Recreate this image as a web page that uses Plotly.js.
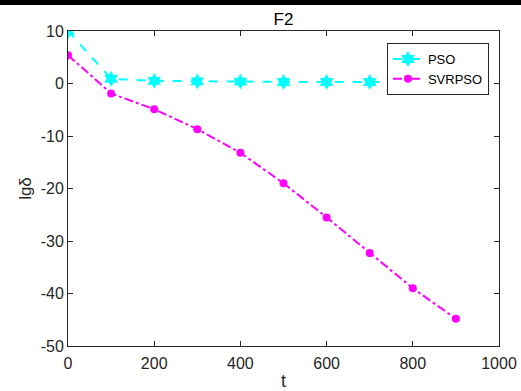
<!DOCTYPE html>
<html>
<head>
<meta charset="utf-8">
<script src="https://cdn.plot.ly/plotly-3.0.1.min.js"></script>
<style>
html,body{margin:0;padding:0;background:#fff;}
#wrap{position:relative;width:521px;height:391px;}
#bar{position:absolute;left:0;top:0;width:521px;height:5px;background:#000;z-index:10;}
#chart{width:521px;height:391px;}
</style>
</head>
<body>
<div id="wrap"><div id="bar"></div><div id="chart"></div></div>
<script>
const t = [0, 100, 200, 300, 400, 500, 600, 700, 800, 900];
const psoVals = [10, 0.9, 0.5, 0.4, 0.35, 0.3, 0.3, 0.3, 0.3, 0.3];
const svrpsoVals = [5.4, -1.9, -4.9, -8.7, -13.2, -19.0, -25.5, -32.3, -39.0, -44.8];
const xTicks = [0, 200, 400, 600, 800, 1000];
const xTickLabels = ['0', '200', '400', '600', '800', '1000'];
const yTicks = [10, 0, -10, -20, -30, -40, -50];
const yTickLabels = ['10', '0', '-10', '-20', '-30', '-40', '-50'];

const FONT = 'Liberation Sans, Arial, sans-serif';

const traces = [
  {x: t, y: psoVals, name: 'PSO', mode: 'lines+markers',
   line: {color: '#00FFFF', width: 2, dash: 'dash'},
   marker: {symbol: 'hexagram', size: 12, color: '#00FFFF'}},
  {x: t, y: svrpsoVals, name: 'SVRPSO', mode: 'lines+markers',
   line: {color: '#FF00FF', width: 2, dash: 'dashdot'},
   marker: {symbol: 'circle', size: 8, color: '#FF00FF'}}
];

const axisCommon = {
  showgrid: false, zeroline: false, showline: true, linecolor: '#262626', linewidth: 1,
  mirror: 'ticks', ticks: 'inside', ticklen: 5, tickcolor: '#262626',
  tickfont: {family: FONT, size: 16, color: '#262626'}
};

const layout = {
  width: 521, height: 391,
  margin: {l: 68, r: 22, t: 31, b: 45},
  paper_bgcolor: '#fff', plot_bgcolor: '#fff',
  title: {text: 'F2', font: {family: FONT, size: 17, color: '#000'},
          xref: 'paper', x: 0.5, xanchor: 'center', y: 0.951, yanchor: 'middle'},
  xaxis: Object.assign({}, axisCommon, {range: [0, 1000], tickvals: xTicks, ticktext: xTickLabels,
    ticklabelstandoff: 3,
    title: {text: 't', font: {family: FONT, size: 18, color: '#262626'}, standoff: 4}}),
  yaxis: Object.assign({}, axisCommon, {range: [-50, 10], tickvals: yTicks, ticktext: yTickLabels,
    title: {text: 'lgδ', font: {family: FONT, size: 17, color: '#262626'}, standoff: 4}}),
  showlegend: true,
  legend: {x: 0.74, y: 0.962, xanchor: 'left', yanchor: 'top',
    bgcolor: '#fff', bordercolor: '#262626', borderwidth: 1,
    font: {family: FONT, size: 13, color: '#000'},
    tracegroupgap: 0, itemwidth: 30}
};

Plotly.newPlot('chart', traces, layout, {displayModeBar: false, staticPlot: true});
</script>
</body>
</html>
